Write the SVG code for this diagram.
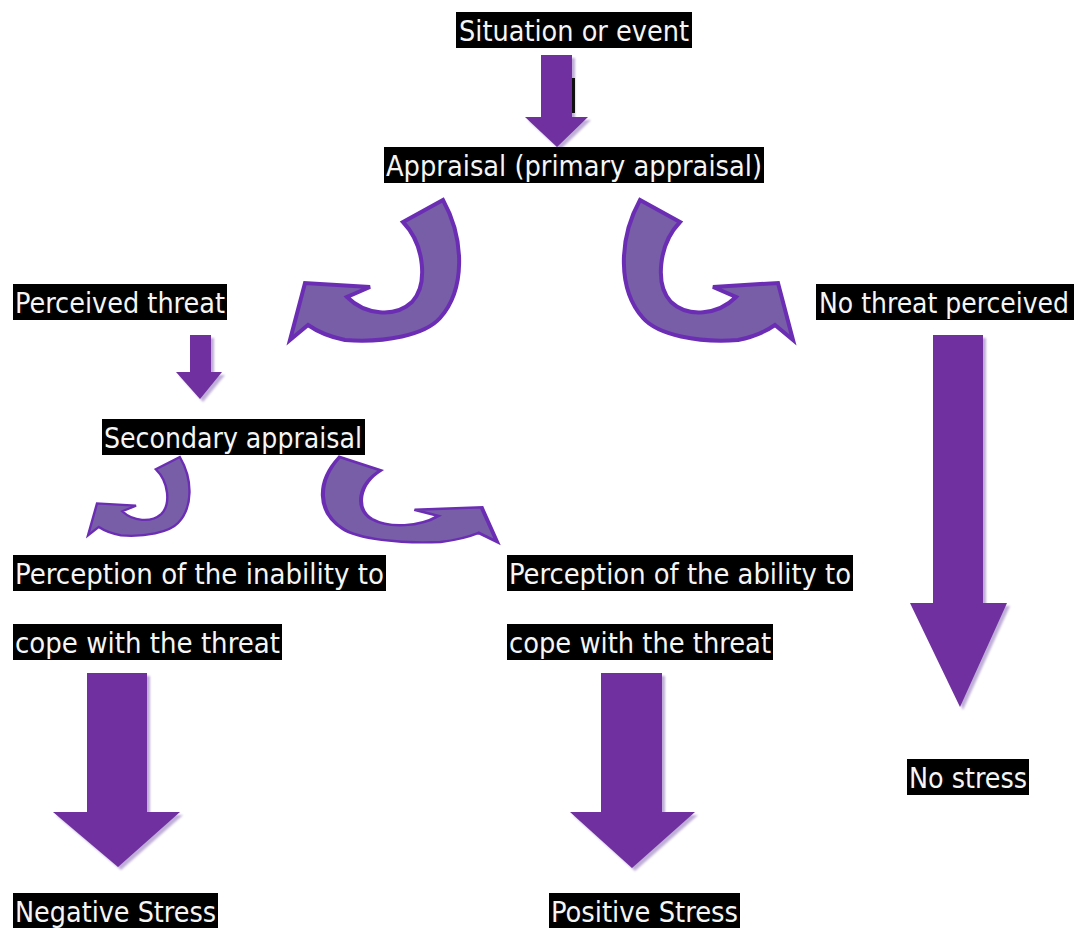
<svg xmlns="http://www.w3.org/2000/svg" xmlns:xlink="http://www.w3.org/1999/xlink" width="1077" height="928" viewBox="0 0 1077 928">
  <style>
    .box { fill: #000000; }
    .lbl { fill: #f5f5f5; font-family: "DejaVu Sans Condensed", "DejaVu Sans", sans-serif; font-size: 29px; font-stretch: condensed; }
    .solid { fill: #7030a0; }
    .shadow { fill: #a48cc8; opacity: 0.7; }
    .curved { fill: #775ea6; stroke: #6b2db4; stroke-width: 4; stroke-linejoin: miter; vector-effect: non-scaling-stroke; }
  </style>
  <defs>
    <!-- curved arrow band: tail at upper right, head pointing up-left -->
    <path id="bend" d="M403,222 L443,200 C465,240 465,290 440,318 C425,335 385,343 345,340 C330,337 318,332 308,325 L290,340 L305,283 L370,287 L347,297 C365,315 395,318 412,302 C428,285 425,245 403,222 Z"/>
    <filter id="soft" x="-10%" y="-10%" width="130%" height="130%">
      <feGaussianBlur stdDeviation="1.2"/>
    </filter>
  </defs>

  <rect width="1077" height="928" fill="#ffffff"/>

  <!-- connectors -->
  <g id="connectors">
    <!-- situation -> appraisal -->
    <polygon class="shadow" filter="url(#soft)" points="544,58 575,58 575,120 591,120 560,150 528,120 544,120"/>
    <polygon class="solid" points="541,55 572,55 572,117 588,117 557,147 525,117 541,117"/>
    <rect x="572" y="78" width="3" height="35" fill="#111111"/>

    <!-- appraisal -> perceived threat / no threat -->
    <use xlink:href="#bend" class="curved"/>
    <use xlink:href="#bend" class="curved" transform="translate(1083,0) scale(-1,1)"/>

    <!-- perceived threat -> secondary appraisal -->
    <polygon class="shadow" filter="url(#soft)" points="193,338 214,338 214,375 225,375 203,402 179,375 193,375"/>
    <polygon class="solid" points="190,335 211,335 211,372 222,372 200,399 176,372 190,372"/>

    <!-- secondary appraisal -> inability / ability -->
    <use xlink:href="#bend" class="curved" transform="translate(88,457) scale(0.6,0.56) translate(-290,-200)"/>
    <use xlink:href="#bend" class="curved" transform="translate(322,457) scale(1.03,0.607) translate(-623,-200) translate(1083,0) scale(-1,1)"/>

    <!-- inability -> negative stress -->
    <polygon class="shadow" filter="url(#soft)" points="90,676 150,676 150,815 183,815 121,870 56,815 90,815"/>
    <polygon class="solid" points="87,673 147,673 147,812 180,812 118,867 53,812 87,812"/>

    <!-- ability -> positive stress -->
    <polygon class="shadow" filter="url(#soft)" points="604,676 665,676 665,815 698,815 635,871 573,815 604,815"/>
    <polygon class="solid" points="601,673 662,673 662,812 695,812 632,868 570,812 601,812"/>

    <!-- no threat -> no stress -->
    <polygon class="shadow" filter="url(#soft)" points="936,338 986,338 986,606 1010,606 963,710 913,606 936,606"/>
    <polygon class="solid" points="933,335 983,335 983,603 1007,603 960,707 910,603 933,603"/>
  </g>

  <g id="situation">
    <rect class="box" x="456" y="12" width="236" height="36"/>
    <text class="lbl" x="459" y="41" textLength="230" lengthAdjust="spacingAndGlyphs">Situation or event</text>
  </g>
  <g id="primary-appraisal">
    <rect class="box" x="384" y="147" width="380" height="36"/>
    <text class="lbl" x="386" y="176" textLength="376" lengthAdjust="spacingAndGlyphs">Appraisal (primary appraisal)</text>
  </g>
  <g id="perceived-threat">
    <rect class="box" x="13" y="284" width="214" height="36"/>
    <text class="lbl" x="15" y="313" textLength="210" lengthAdjust="spacingAndGlyphs">Perceived threat</text>
  </g>
  <g id="no-threat">
    <rect class="box" x="816" y="284" width="258" height="36"/>
    <text class="lbl" x="819" y="313" textLength="250" lengthAdjust="spacingAndGlyphs">No threat perceived</text>
  </g>
  <g id="secondary-appraisal">
    <rect class="box" x="102" y="419" width="263" height="36"/>
    <text class="lbl" x="104" y="448" textLength="258" lengthAdjust="spacingAndGlyphs">Secondary appraisal</text>
  </g>
  <g id="inability">
    <rect class="box" x="13" y="555" width="373" height="36"/>
    <text class="lbl" x="15" y="584" textLength="369" lengthAdjust="spacingAndGlyphs">Perception of the inability to</text>
    <rect class="box" x="13" y="624" width="269" height="36"/>
    <text class="lbl" x="15" y="653" textLength="265" lengthAdjust="spacingAndGlyphs">cope with the threat</text>
  </g>
  <g id="ability">
    <rect class="box" x="507" y="555" width="346" height="36"/>
    <text class="lbl" x="509" y="584" textLength="342" lengthAdjust="spacingAndGlyphs">Perception of the ability to</text>
    <rect class="box" x="507" y="624" width="266" height="36"/>
    <text class="lbl" x="509" y="653" textLength="262" lengthAdjust="spacingAndGlyphs">cope with the threat</text>
  </g>
  <g id="no-stress">
    <rect class="box" x="907" y="759" width="122" height="36"/>
    <text class="lbl" x="909" y="788" textLength="118" lengthAdjust="spacingAndGlyphs">No stress</text>
  </g>
  <g id="negative-stress">
    <rect class="box" x="13" y="893" width="205" height="36"/>
    <text class="lbl" x="15" y="922" textLength="201" lengthAdjust="spacingAndGlyphs">Negative Stress</text>
  </g>
  <g id="positive-stress">
    <rect class="box" x="549" y="893" width="191" height="36"/>
    <text class="lbl" x="551" y="922" textLength="187" lengthAdjust="spacingAndGlyphs">Positive Stress</text>
  </g>
</svg>
